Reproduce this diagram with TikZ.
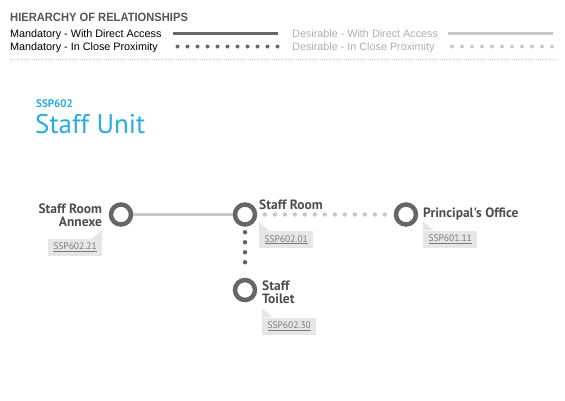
\documentclass[tikz,border=0pt]{standalone}
\usepackage{fontspec}
\setmainfont{Liberation Sans}
\newfontfamily\dinfont{PT Sans}
\newfontfamily\headfont[FakeStretch=0.93]{Liberation Sans}
\usetikzlibrary{positioning,calc}
\definecolor{darkline}{HTML}{666666}
\definecolor{lightline}{HTML}{C8C8C8}
\definecolor{labeltext}{HTML}{4D4D4D}
\definecolor{tagfill}{HTML}{E6E6E6}
\definecolor{tagtext}{HTML}{7A7A7A}
\definecolor{unitblue}{HTML}{29ABE2}
\definecolor{desirtext}{HTML}{AEAEAE}
\definecolor{headgray}{HTML}{555555}

\begin{document}
\begin{tikzpicture}[x=1pt,y=1pt]
			\tikzstyle{room}=[circle,draw=darkline,line width=4.5pt,fill=white,minimum size=20pt,inner sep=0pt]
			\tikzstyle{lbl}=[inner sep=0pt,text=labeltext,font=\dinfont\bfseries\fontsize{13.5}{12.5}\selectfont]
			\tikzstyle{tag}=[fill=tagfill,text=tagtext,minimum width=54pt,minimum height=17pt,inner sep=0pt,font=\dinfont\fontsize{9.5}{9.5}\selectfont]
			\tikzstyle{legend}=[inner sep=0pt,font=\fontsize{10.8}{12}\selectfont]
			\tikzstyle{direct}=[line width=3.8pt]
			\tikzstyle{close}=[line width=4.5pt,line cap=round,dash pattern=on 0pt off 10pt]
			\useasboundingbox (0,0) rectangle (565,-400);
			%Legend
			\node[inner sep=0pt,anchor=base west,text=headgray,font=\headfont\bfseries\fontsize{12}{12}\selectfont](hier) at (10,-21){HIERARCHY OF RELATIONSHIPS};
			\node[legend,anchor=base west,text=black](mda) at (10,-37){Mandatory - With Direct Access};
			\node[legend,anchor=base west,text=black](mcp) at (10,-50){Mandatory - In Close Proximity};
			\node[legend,anchor=base west,text=desirtext](dda) at (292,-37){Desirable - With Direct Access};
			\node[legend,anchor=base west,text=desirtext](dcp) at (292,-50){Desirable - In Close Proximity};
			\coordinate(mdaA) at (173,-33.5);
			\coordinate(mdaB) at (278,-33.5);
			\coordinate(mcpA) at (177.5,-46.5);
			\coordinate(mcpB) at (278.5,-46.5);
			\coordinate(ddaA) at (448,-33.5);
			\coordinate(ddaB) at (553,-33.5);
			\coordinate(dcpA) at (452,-46.5);
			\coordinate(dcpB) at (553,-46.5);
			\draw[direct,darkline](mdaA)--(mdaB);
			\draw[close,line width=4pt,darkline](mcpA)--(mcpB);
			\draw[direct,lightline](ddaA)--(ddaB);
			\draw[close,line width=4pt,lightline](dcpA)--(dcpB);
			\coordinate(sepA) at (10,-59);
			\coordinate(sepB) at (555,-59);
			\draw[lightline,line width=0.8pt,dash pattern=on 0.8pt off 1.6pt](sepA)--(sepB);
			%Unit
			\node[inner sep=0pt,anchor=base west,text=unitblue,font=\dinfont\bfseries\fontsize{11}{11}\selectfont](code) at (36,-107){SSP602};
			\node[inner sep=0pt,anchor=base west,text=unitblue,font=\dinfont\fontsize{27}{27}\selectfont](unit) at (35,-133){Staff Unit};
			%Rooms
			\node[room](ann) at (121,-214.5){};
			\node[room](sr) at (245,-214.5){};
			\node[room](po) at (406,-214.5){};
			\node[room](st) at (245,-290){};
			%Labels
			\node[lbl,align=right,left=6.5pt of ann,yshift=-1pt](annl){Staff Room\\Annexe};
			\node[lbl,right=1.75pt of sr,yshift=9.5pt](srl){Staff Room};
			\node[lbl,right=4.75pt of po](pol){Principal's Office};
			\node[lbl,align=left,right=4.75pt of st,yshift=-2.5pt](stl){Staff\\Toilet};
			%Tags
			\node[tag,below left=12pt and 0pt of annl.south east](annt){\underline{SSP602.21}};
			\node[tag,below right=21pt and 0pt of srl.south west](srt){\underline{SSP602.01}};
			\node[tag,below right=9.5pt and 0pt of pol.south west](pot){\underline{SSP601.11}};
			\node[tag,below right=13.5pt and 0pt of stl.south west](stt){\underline{SSP602.30}};
			\fill[tagfill](annt.north east)--++(0,9)--++(-11,-9)--cycle;
			\fill[tagfill](srt.north west)--++(0,9)--++(11,-9)--cycle;
			\fill[tagfill](pot.north west)--++(0,9)--++(11,-9)--cycle;
			\fill[tagfill](stt.north west)--++(0,9)--++(11,-9)--cycle;
			%Relationships
			\draw[direct,lightline](ann)--(sr);
			\draw[close,darkline,shorten <=5.5pt,shorten >=5.5pt](sr)--(st);
			\draw[close,lightline,shorten <=7.5pt,shorten >=7.5pt](sr)--(po);
\end{tikzpicture}
\end{document}
